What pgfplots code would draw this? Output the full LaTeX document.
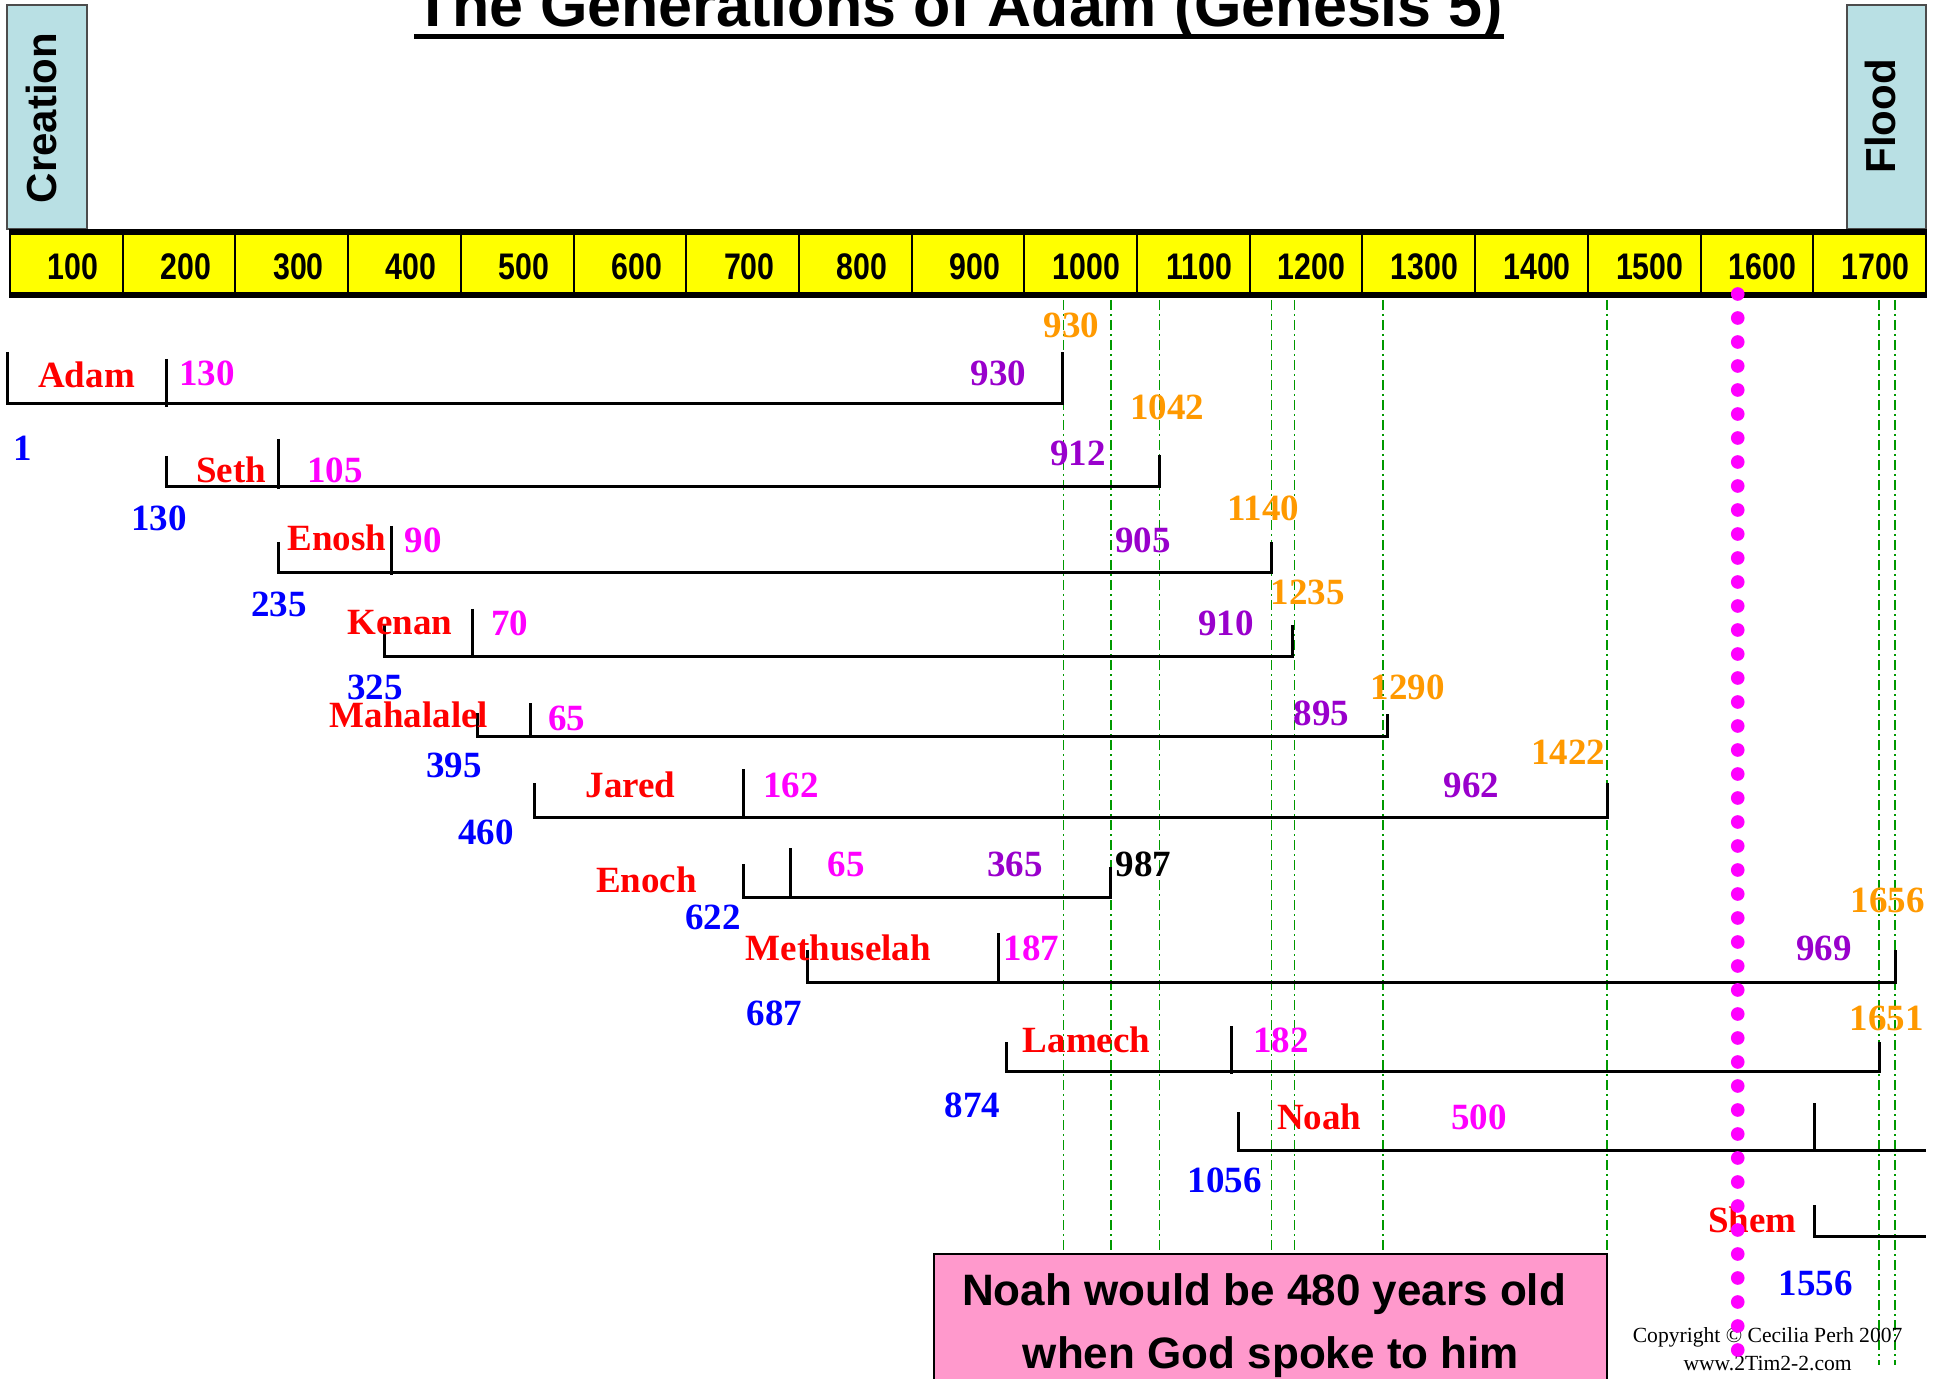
\documentclass[border=0pt]{standalone}
\usepackage{pgfplots}
\pgfplotsset{compat=1.18}
\usepackage{graphicx}
\usepackage{fontspec}
\setmainfont{Liberation Serif}
\newfontfamily\arial{Liberation Sans}
\definecolor{cred}{RGB}{255,0,0}
\definecolor{cmag}{RGB}{255,0,255}
\definecolor{cblue}{RGB}{0,0,255}
\definecolor{cpurp}{RGB}{153,0,204}
\definecolor{corange}{RGB}{255,153,0}
\definecolor{cgreen}{RGB}{0,153,0}
\definecolor{cyellow}{RGB}{255,255,0}
\definecolor{cbox}{RGB}{185,224,228}
\definecolor{cpink}{RGB}{255,153,204}
\tikzset{
  lab/.style={font=\fontsize{9.25}{11}\selectfont\bfseries, inner sep=0pt},
  tl/.style={font=\fontsize{9.25}{11}\selectfont\arial\bfseries, inner sep=0pt},
}
\begin{document}
\begin{tikzpicture}
\useasboundingbox (0,0) rectangle (484.5pt,344.75pt);
\clip (0,0) rectangle (484.5pt,344.75pt);
\begin{axis}[at={(0pt,0pt)}, anchor=south west, scale only axis,
  width=484.5pt, height=344.75pt,
  xmin=-8.873, xmax=1710.7, ymin=0, ymax=1379, y dir=reverse,
  hide axis, clip=false, unbounded coords=jump]

% header boxes
\addplot[fill=cbox, draw=gray!60!black, line width=0.3pt] coordinates {(-2.7,5) (68.3,5) (68.3,229) (-2.7,229)} -- cycle;
\addplot[fill=cbox, draw=gray!60!black, line width=0.3pt] coordinates {(1630,5) (1700,5) (1700,229) (1630,229)} -- cycle;
\node[rotate=90, font=\fontsize{10.5}{12}\selectfont\arial\bfseries, inner sep=0pt] at (28,118) {Creation};
\node[rotate=90, font=\fontsize{10.5}{12}\selectfont\arial\bfseries, inner sep=0pt] at (1660,116.5) {Flood};

% title
\node[anchor=base, font=\fontsize{15.25}{18}\selectfont\arial\bfseries, inner sep=0pt] at (842,27) {The Generations of Adam (Genesis 5)};
\addplot[black, line width=1.25pt] coordinates {(358.5,36.5) (1325.6,36.5)};

% yellow time bar
\addplot[fill=cyellow, draw=none] coordinates {(0,232) (1700,232) (1700,295) (0,295)} -- cycle;
\addplot[black, line width=1.5pt] coordinates {(-0.5,232) (1700.5,232) (1700.5,nan) (-0.5,295) (1700.5,295)};
\addplot[black, line width=0.5pt] coordinates {
(0,232) (0,295) (0,nan) (100,232) (100,295) (100,nan) (200,232) (200,295) (200,nan)
(300,232) (300,295) (300,nan) (400,232) (400,295) (400,nan) (500,232) (500,295) (500,nan)
(600,232) (600,295) (600,nan) (700,232) (700,295) (700,nan) (800,232) (800,295) (800,nan)
(900,232) (900,295) (900,nan) (1000,232) (1000,295) (1000,nan) (1100,232) (1100,295) (1100,nan)
(1200,232) (1200,295) (1200,nan) (1300,232) (1300,295) (1300,nan) (1400,232) (1400,295) (1400,nan)
(1500,232) (1500,295) (1500,nan) (1600,232) (1600,295) (1600,nan) (1700,232) (1700,295)};
\node[tl] at (56,267) {\scalebox{0.82}[1]{100}};
\node[tl] at (156,267) {\scalebox{0.82}[1]{200}};
\node[tl] at (256,267) {\scalebox{0.82}[1]{300}};
\node[tl] at (356,267) {\scalebox{0.82}[1]{400}};
\node[tl] at (456,267) {\scalebox{0.82}[1]{500}};
\node[tl] at (556,267) {\scalebox{0.82}[1]{600}};
\node[tl] at (656,267) {\scalebox{0.82}[1]{700}};
\node[tl] at (756,267) {\scalebox{0.82}[1]{800}};
\node[tl] at (856,267) {\scalebox{0.82}[1]{900}};
\node[tl] at (955,267) {\scalebox{0.82}[1]{1000}};
\node[tl] at (1055,267) {\scalebox{0.82}[1]{1100}};
\node[tl] at (1155,267) {\scalebox{0.82}[1]{1200}};
\node[tl] at (1255,267) {\scalebox{0.82}[1]{1300}};
\node[tl] at (1355,267) {\scalebox{0.82}[1]{1400}};
\node[tl] at (1455,267) {\scalebox{0.82}[1]{1500}};
\node[tl] at (1555,267) {\scalebox{0.82}[1]{1600}};
\node[tl] at (1655,267) {\scalebox{0.82}[1]{1700}};

% green dash-dot death lines
\addplot[cgreen, line width=0.4pt, dash pattern=on 2.5pt off 1pt on 0.5pt off 1pt] coordinates {
(934.8,300) (934.8,1252) (934.8,nan) (977.1,300) (977.1,1252) (977.1,nan) (1019.9,300) (1019.9,1252) (1019.9,nan)
(1119.2,300) (1119.2,1252) (1119.2,nan) (1139.8,300) (1139.8,1252) (1139.8,nan) (1218.5,300) (1218.5,1252) (1218.5,nan)
(1417,300) (1417,1252) (1417,nan) (1658.4,300) (1658.4,1365) (1658.4,nan) (1672.6,300) (1672.6,1365)};

% lifespans
\pgfplotsset{life/.style={black, line width=0.75pt, line join=miter}}
\addplot[life] coordinates {(-2,352) (-2,404) (934.2,404) (934.2,352)};
\addplot[life] coordinates {(139.3,359) (139.3,407)};
\addplot[life] coordinates {(139.3,456) (139.3,487) (1019.8,487) (1019.8,455)};
\addplot[life] coordinates {(238.4,439) (238.4,489)};
\addplot[life] coordinates {(238.4,542) (238.4,573) (1119,573) (1119,542)};
\addplot[life] coordinates {(338.1,526) (338.1,575)};
\addplot[life] coordinates {(332.7,625) (332.7,656) (1138,656) (1138,625)};
\addplot[life] coordinates {(410.5,609) (410.5,658)};
\addplot[life] coordinates {(415,713) (415,736) (1222.6,736) (1222.6,714)};
\addplot[life] coordinates {(461.4,703) (461.4,738)};
\addplot[life] coordinates {(465.8,783) (465.8,817) (1417,817) (1417,783)};
\addplot[life] coordinates {(651,769) (651,819)};
\addplot[life] coordinates {(651,864) (651,897) (976.8,897) (976.8,867)};
\addplot[life] coordinates {(692.8,848) (692.8,897)};
\addplot[life] coordinates {(707.5,950) (707.5,982) (1672.6,982) (1672.6,950)};
\addplot[life] coordinates {(876.7,933) (876.7,984)};
\addplot[life] coordinates {(883.8,1042) (883.8,1071) (1658.4,1071) (1658.4,1042)};
\addplot[life] coordinates {(1084,1026) (1084,1074)};
\addplot[life] coordinates {(1090,1112) (1090,1150) (1700,1150)};
\addplot[life] coordinates {(1601.5,1103) (1601.5,1150)};
\addplot[life] coordinates {(1601.5,1205) (1601.5,1236) (1700,1236)};

% pink box
\addplot[fill=cpink, draw=black, line width=0.5pt] coordinates {(820.1,1254) (1417,1254) (1417,1420) (820.1,1420)} -- cycle;
\node[anchor=base, font=\fontsize{11}{13}\selectfont\arial\bfseries, inner sep=0pt] at (1112.7,1305) {Noah would be 480 years old};
\node[anchor=base, font=\fontsize{11}{13}\selectfont\arial\bfseries, inner sep=0pt] at (1118.8,1368) {when God spoke to him};

% names
\node[lab, text=cred] at (67.9,375) {Adam};
\node[lab, text=cred] at (196.1,470) {Seth};
\node[lab, text=cred] at (290.2,538) {Enosh};
\node[lab, text=cred] at (346,623) {Kenan};
\node[lab, text=cred] at (354,715) {Mahalalel};
\node[lab, text=cred] at (550.6,785) {Jared};
\node[lab, text=cred] at (564.8,880) {Enoch};
\node[lab, text=cred] at (735.1,948) {Methuselah};
\node[lab, text=cred] at (955.3,1040) {Lamech};
\node[lab, text=cred] at (1161.7,1117) {Noah};
\node[lab, text=cred] at (1545.9,1220) {Shem};

% birth years (blue)
\node[lab, text=cblue] at (11.1,448) {1};
\node[lab, text=cblue] at (132.2,518) {130};
\node[lab, text=cblue] at (238.7,604) {235};
\node[lab, text=cblue] at (323.9,687) {325};
\node[lab, text=cblue] at (394,765) {395};
\node[lab, text=cblue] at (422.4,832) {460};
\node[lab, text=cblue] at (623.8,917) {622};
\node[lab, text=cblue] at (678.3,1013) {687};
\node[lab, text=cblue] at (854.1,1105) {874};
\node[lab, text=cblue] at (1077.6,1180) {1056};
\node[lab, text=cblue] at (1602.4,1283) {1556};

% age at begetting (magenta)
\node[lab, text=cmag] at (174.8,373) {130};
\node[lab, text=cmag] at (288.4,470) {105};
\node[lab, text=cmag] at (366.5,540) {90};
\node[lab, text=cmag] at (443.2,623) {70};
\node[lab, text=cmag] at (493.8,718) {65};
\node[lab, text=cmag] at (693,785) {162};
\node[lab, text=cmag] at (742.2,864) {65};
\node[lab, text=cmag] at (906.2,948) {187};
\node[lab, text=cmag] at (1127.6,1040) {182};
\node[lab, text=cmag] at (1303.5,1117) {500};

% lifespans (purple)
\node[lab, text=cpurp] at (877.1,373) {930};
\node[lab, text=cpurp] at (947.7,453) {912};
\node[lab, text=cpurp] at (1005.1,540) {905};
\node[lab, text=cpurp] at (1078.9,623) {910};
\node[lab, text=cpurp] at (1163.6,713) {895};
\node[lab, text=cpurp] at (1296.9,785) {962};
\node[lab, text=cpurp] at (891.7,864) {365};
\node[lab, text=cpurp] at (1609.5,948) {969};
\node[lab, text=black] at (1005.6,864) {987};

% death years (orange)
\node[lab, text=corange] at (942,325) {930};
\node[lab, text=corange] at (1026.6,407) {1042};
\node[lab, text=corange] at (1112,508) {1140};
\node[lab, text=corange] at (1151.3,592) {1235};
\node[lab, text=corange] at (1240.4,687) {1290};
\node[lab, text=corange] at (1382.5,752) {1422};
\node[lab, text=corange] at (1666.2,900) {1656};
\node[lab, text=corange] at (1665.3,1018) {1651};

% copyright
\node[font=\fontsize{5.4}{6.5}\selectfont, inner sep=0pt] at (1559.5,1337) {Copyright © Cecilia Perh 2007};
\node[font=\fontsize{5.4}{6.5}\selectfont, inner sep=0pt] at (1559.5,1363) {www.2Tim2-2.com};

% magenta dotted line (120 years before the flood)
\addplot[only marks, mark=*, mark size=1.5pt, color=cmag] coordinates {
(1533,294) (1533,318) (1533,342) (1533,366) (1533,390) (1533,414) (1533,438) (1533,462) (1533,486)
(1533,510) (1533,534) (1533,558) (1533,582) (1533,606) (1533,630) (1533,654) (1533,678) (1533,702)
(1533,726) (1533,750) (1533,774) (1533,798) (1533,822) (1533,846) (1533,870) (1533,894) (1533,918)
(1533,942) (1533,966) (1533,990) (1533,1014) (1533,1038) (1533,1062) (1533,1086) (1533,1110) (1533,1134)
(1533,1158) (1533,1182) (1533,1206) (1533,1230) (1533,1254) (1533,1278) (1533,1302) (1533,1326) (1533,1350)};

\end{axis}
\end{tikzpicture}
\end{document}
